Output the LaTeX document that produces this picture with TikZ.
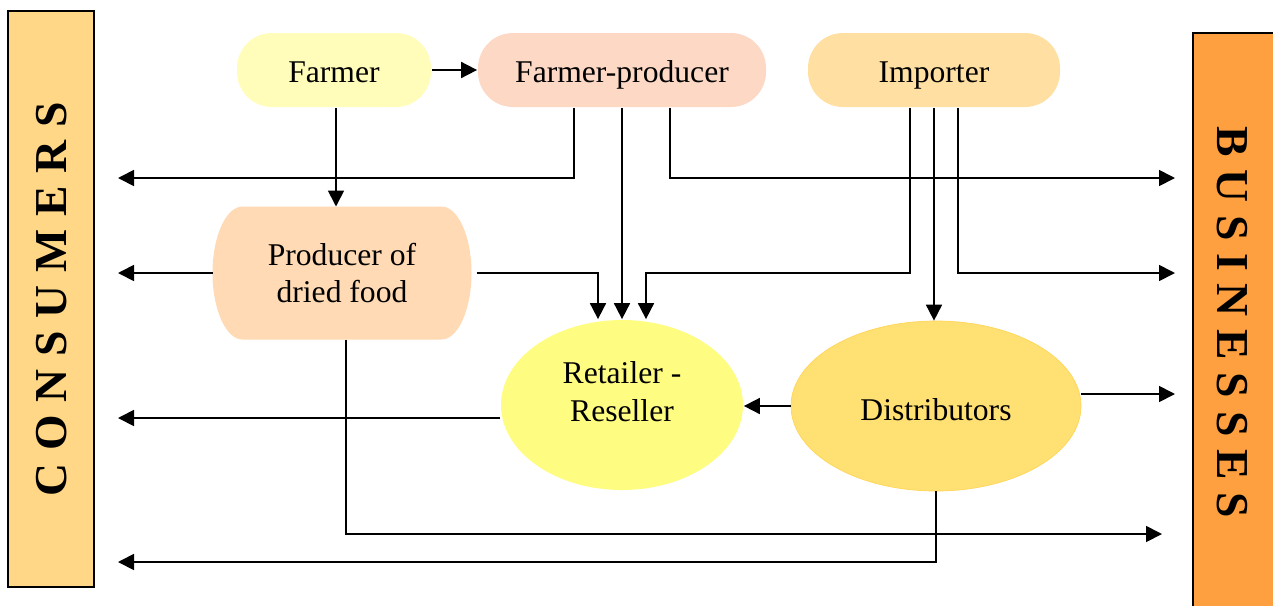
\documentclass[tikz,border=0pt]{standalone}
\usepackage{fontspec}
\setmainfont{Liberation Serif}
\newfontfamily\sidefont[LetterSpace=28]{Liberation Serif}
\usepackage{tikz}
\usetikzlibrary{shapes.geometric, arrows.meta, backgrounds}
\definecolor{consfill}{RGB}{255,215,135}
\definecolor{busfill}{RGB}{255,160,64}
\definecolor{farmerfill}{RGB}{255,253,185}
\definecolor{fpfill}{RGB}{253,216,196}
\definecolor{impfill}{RGB}{255,224,162}
\definecolor{driedfill}{RGB}{255,218,180}
\definecolor{retailfill}{RGB}{255,252,130}
\definecolor{distfill}{RGB}{255,224,114}
\definecolor{distline}{RGB}{255,214,90}
\newcommand{\boxfont}{\fontsize{18}{21.5}\selectfont}

\begin{document}
\begin{tikzpicture}[x=0.2mm, y=-0.2mm,
    pill/.style={inner sep=0pt, minimum height=14.8mm, rounded corners=7mm, font=\boxfont, text height=6mm, text depth=1mm},
    oval/.style={ellipse, inner sep=0pt, minimum height=34mm, font=\boxfont},
    sidebar/.style={draw, line width=1pt, inner sep=0pt},
    sidetext/.style={font=\sidefont\bfseries\fontsize{26}{30}\selectfont, inner sep=0pt},
    >={Triangle[length=3.2mm, width=3.2mm]},
    line width=1pt
    ]
    \useasboundingbox (0,0) rectangle (1273,605);

    % consumers / businesses
    \node[sidebar, fill=consfill, minimum width=17.2mm, minimum height=115.2mm] (consumers) at (51,299) {};
    \node[sidetext, rotate=90] (constext) at (52,299) {CONSUMERS};
    \node[sidebar, fill=busfill, minimum width=18.4mm, minimum height=116.4mm] (businesses) at (1239,324) {};
    \node[sidetext, rotate=-90] (bustext) at (1232,322) {BUSINESSES};

    % chain
    \node[pill, fill=farmerfill, minimum width=38.8mm] (farmer) at (334,70) {Farmer};
    \node[pill, fill=fpfill, minimum width=57.6mm] (fp) at (622,70) {Farmer-producer};
    \node[pill, fill=impfill, minimum width=50.4mm] (imp) at (934,70) {Importer};
    \node[align=center, inner sep=0pt, outer sep=0pt, font=\boxfont, minimum width=51.8mm, minimum height=26.6mm] (dried) at (342,273) {Producer of\\dried food};
    % bulging ends of the dried food box
    \begin{scope}[on background layer]
        \fill[driedfill] ([xshift=6mm]dried.north west) -- ([xshift=-6mm]dried.north east)
            .. controls ([xshift=-2.7mm]dried.north east) and ([yshift=7.3mm]dried.east) .. (dried.east)
            .. controls ([yshift=-7.3mm]dried.east) and ([xshift=-2.7mm]dried.south east) .. ([xshift=-6mm]dried.south east)
            -- ([xshift=6mm]dried.south west)
            .. controls ([xshift=2.7mm]dried.south west) and ([yshift=-7.3mm]dried.west) .. (dried.west)
            .. controls ([yshift=7.3mm]dried.west) and ([xshift=2.7mm]dried.north west) .. ([xshift=6mm]dried.north west) -- cycle;
    \end{scope}
    \node[oval, fill=retailfill, minimum width=48.4mm] (retail) at (622,405) {};
    \node[font=\boxfont, align=center] (retailtext) at (622,392) {Retailer -\\Reseller};
    \node[oval, fill=distfill, draw=distline, line width=0.4pt, minimum width=58mm, text height=5.8mm, text depth=0mm] (dist) at (936,406) {Distributors};

    \coordinate (cons) at (118,0);
    \coordinate (bus) at (1175,0);
    \coordinate (lvl1) at (0,178);
    \coordinate (lvl2) at (0,273);
    \coordinate (lvl5) at (0,562);
    \coordinate (busend) at (1162,534);

    \draw[->] (farmer.east) -- (fp.west);
    \draw[->] ([xshift=0.4mm]farmer.south) -- ([xshift=0.4mm]farmer.south |- dried.north);
    \draw[->] ([xshift=-9.6mm]fp.south) |- (cons |- lvl1);
    \draw[->] (fp.south) -- (retail.north);
    \draw[->] ([xshift=9.6mm]fp.south) |- (bus |- lvl1);
    \draw[->] ([xshift=-4.8mm]imp.south) |- ([xshift=4.8mm]retail.north |- lvl2) -- ([xshift=4.8mm]retail.north);
    \draw[->] (imp.south) -- (imp.south |- dist.north);
    \draw[->] ([xshift=4.8mm]imp.south) |- (bus |- lvl2);
    \draw[->] (dried.west) -- (dried.west -| cons);
    \draw[->] ([xshift=1mm]dried.east) -| ([xshift=-4.8mm]retail.north);
    \draw[->] ([xshift=0.8mm]dried.south) |- (busend);
    \draw[->] ([yshift=-2.6mm]retail.west) -- ([yshift=-2.6mm]retail.west -| cons);
    \draw[->] (dist.west) -- (dist.west -| retail.east);
    \draw[->] ([yshift=2.4mm]dist.east) -- ([yshift=2.4mm]dist.east -| bus);
    \draw[->] (dist.south) |- (cons |- lvl5);
\end{tikzpicture}
\end{document}
